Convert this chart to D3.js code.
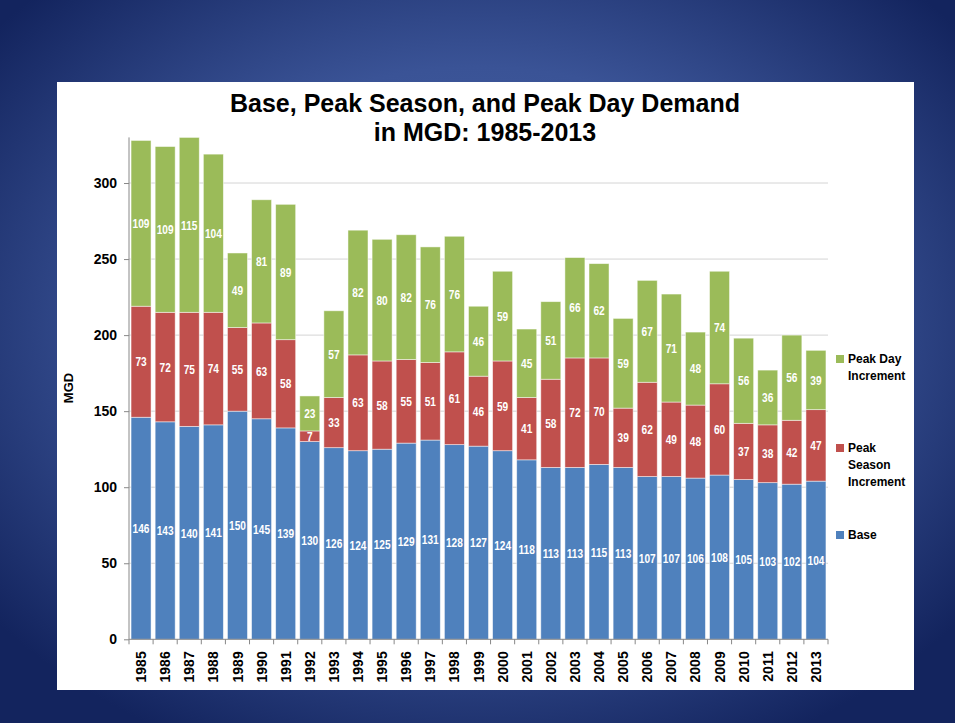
<!DOCTYPE html>
<html><head><meta charset="utf-8">
<script src="https://cdn.jsdelivr.net/npm/d3@7"></script>
<style>html,body{margin:0;padding:0;overflow:hidden;background:#1c2c66}</style>
</head><body>
<script>
const years = ["1985","1986","1987","1988","1989","1990","1991","1992","1993","1994","1995","1996","1997","1998","1999","2000","2001","2002","2003","2004","2005","2006","2007","2008","2009","2010","2011","2012","2013"];
const base = [146,143,140,141,150,145,139,130,126,124,125,129,131,128,127,124,118,113,113,115,113,107,107,106,108,105,103,102,104];
const peakSeason = [73,72,75,74,55,63,58,7,33,63,58,55,51,61,46,59,41,58,72,70,39,62,49,48,60,37,38,42,47];
const peakDay = [109,109,115,104,49,81,89,23,57,82,80,82,76,76,46,59,45,51,66,62,59,67,71,48,74,56,36,56,39];
const yTicks = [0,50,100,150,200,250,300];
const seriesNames = ["Base","Peak Season Increment","Peak Day Increment"];
const colors = ["#4F81BD","#C0504D","#9BBB59"];

const W=955,H=723;
const font = "Arial, 'Liberation Sans', sans-serif";
const svg = d3.select("body").append("svg").attr("width",W).attr("height",H);
const defs = svg.append("defs");
const rg = defs.append("radialGradient").attr("id","bg").attr("cx","50%").attr("cy","45%").attr("r","65%");
rg.append("stop").attr("offset","0%").attr("stop-color","#4a66a8");
rg.append("stop").attr("offset","55%").attr("stop-color","#3a5396");
rg.append("stop").attr("offset","100%").attr("stop-color","#13245e");
svg.append("rect").attr("width",W).attr("height",H).attr("fill","url(#bg)");
svg.append("rect").attr("x",57).attr("y",82).attr("width",857).attr("height",608).attr("fill","#fff");

const x0=129,x1=828,yTop=137.4,yBot=639.3;
const x = d3.scaleBand().domain(years).range([x0,x1]).paddingInner(0.17).paddingOuter(0.085);
const y = d3.scaleLinear().domain([0,330]).range([yBot,yTop]);

// gridlines
svg.append("g").selectAll("line").data(yTicks.filter(d=>d>0)).join("line")
  .attr("x1",x0).attr("x2",x1).attr("y1",d=>y(d)).attr("y2",d=>y(d))
  .attr("stroke","#d4d4d4").attr("stroke-width",1);

const data = years.map((yr,i)=>({year:yr,Base:base[i],"Peak Season Increment":peakSeason[i],"Peak Day Increment":peakDay[i]}));
const stack = d3.stack().keys(seriesNames)(data);

const g = svg.append("g");
stack.forEach((s,si)=>{
  g.append("g").selectAll("rect").data(s).join("rect")
    .attr("x",d=>x(d.data.year)).attr("width",x.bandwidth())
    .attr("y",d=>y(d[1])).attr("height",d=>y(d[0])-y(d[1]))
    .attr("fill",colors[si]).attr("stroke","#ffffff").attr("stroke-opacity",0.6).attr("stroke-width",0.8);
});
stack.forEach((s,si)=>{
  g.append("g").selectAll("text").data(s).join("text")
    .attr("transform",d=>`translate(${x(d.data.year)+x.bandwidth()/2},${(y(d[0])+y(d[1]))/2}) scale(0.78,1)`)
    .attr("dy","0.36em").attr("text-anchor","middle")
    .attr("fill","#fff").attr("font-family",font).attr("font-weight","bold").attr("font-size","13px")
    .text(d=>d[1]-d[0]);
});

// axes
const yAxis = d3.axisLeft(y).tickValues(yTicks).tickSize(5).tickPadding(7);
const ya = svg.append("g").attr("transform",`translate(${x0},0)`).call(yAxis);
ya.select(".domain").attr("d",`M0,${yTop}V${yBot}`).attr("stroke","#888");
ya.selectAll(".tick line").attr("stroke","#888");
ya.selectAll("text").attr("font-family",font).attr("font-weight","bold").attr("font-size","14px").attr("fill","#000");

const xa = svg.append("g").attr("transform",`translate(0,${yBot})`).call(d3.axisBottom(x).tickSize(0).tickPadding(0));
xa.select(".domain").attr("d",`M${x0},0H${x1}`).attr("stroke","#888");
const step = x.step();
svg.append("g").selectAll("line").data(d3.range(years.length+1)).join("line")
  .attr("x1",i=>x0+x.paddingOuter()*step - x.paddingInner()*step/2 + i*step)
  .attr("x2",i=>x0+x.paddingOuter()*step - x.paddingInner()*step/2 + i*step)
  .attr("y1",yBot).attr("y2",yBot+5).attr("stroke","#888");
xa.selectAll(".tick text")
  .attr("transform","rotate(-90)").attr("text-anchor","end")
  .attr("x",-12).attr("y",0).attr("dy","0.36em")
  .attr("font-family",font).attr("font-weight","bold").attr("font-size","14px").attr("fill","#000");

// y title
svg.append("text").attr("transform","translate(68,388) rotate(-90)").attr("text-anchor","middle").attr("dy","0.36em")
  .attr("font-family",font).attr("font-weight","bold").attr("font-size","13px").text("MGD");

// title
const t = svg.append("text").attr("text-anchor","middle").attr("font-family",font).attr("font-weight","bold").attr("font-size","25px").attr("fill","#000");
t.append("tspan").attr("x",485).attr("y",112).text("Base, Peak Season, and Peak Day Demand");
t.append("tspan").attr("x",485).attr("y",141).text("in MGD: 1985-2013");

// legend
const legend = [
  {i:2, lines:["Peak Day","Increment"], y:359},
  {i:1, lines:["Peak","Season","Increment"], y:448},
  {i:0, lines:["Base"], y:535}
];
legend.forEach(l=>{
  svg.append("rect").attr("x",836).attr("y",l.y-4).attr("width",8).attr("height",8).attr("fill",colors[l.i]);
  const tx = svg.append("text").attr("font-family",font).attr("font-weight","bold").attr("font-size","12px").attr("fill","#000");
  l.lines.forEach((s,k)=>tx.append("tspan").attr("x",848).attr("y",l.y+k*17).attr("dy","0.36em").text(s));
});
</script>
</body></html>
